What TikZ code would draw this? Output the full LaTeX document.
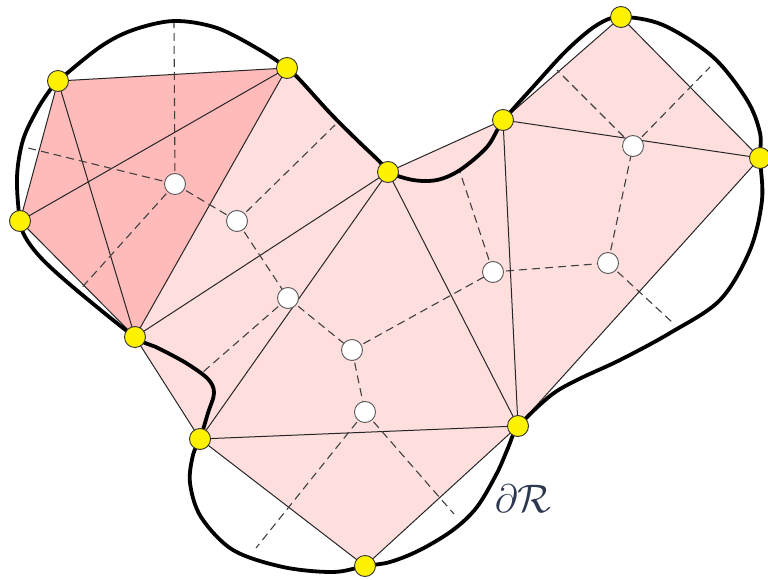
\documentclass[tikz,border=0pt]{standalone}
\begin{document}
\begin{tikzpicture}[x=1pt,y=-1pt,
  vtx/.style={circle,fill=yellow,draw=black!80,line width=0.9pt,minimum size=21pt,inner sep=0pt},
  vor/.style={circle,fill=white,draw=black!65,line width=0.9pt,minimum size=21pt,inner sep=0pt},
  edge/.style={draw=black!85,line width=1pt},
  vedge/.style={draw=black!75,line width=1.1pt,dash pattern=on 8pt off 5pt},
  bnd/.style={draw=black,line width=3.8pt,line join=round}]
\definecolor{lightpink}{RGB}{255,222,222}
\definecolor{darkpink}{RGB}{255,186,186}
\definecolor{labelcol}{RGB}{45,55,80}
\useasboundingbox (0,0) rectangle (768,580);
% vertices as coordinates
\coordinate (A) at (58,81);
\coordinate (B) at (287,68);
\coordinate (C) at (20,221);
\coordinate (D) at (135,337);
\coordinate (E) at (388,172);
\coordinate (F) at (503,120);
\coordinate (G) at (621,17);
\coordinate (H) at (760,158);
\coordinate (I) at (200,439);
\coordinate (J) at (518,426);
\coordinate (K) at (365,566);
% fills
\fill[lightpink] (B) -- (E) -- (F) -- (G) -- (H) -- (J) -- (K) -- (I) -- (D) -- cycle;
\fill[darkpink] (A) -- (B) -- (D) -- (C) -- cycle;
% triangle edges
\draw[edge] (A) -- (B) -- (D) -- (C) -- cycle;
\draw[edge] (A) -- (D);
\draw[edge] (C) -- (B);
\draw[edge] (B) -- (E) -- (D);
\draw[edge] (D) -- (I) -- (E);
\draw[edge] (I) -- (J) -- (E);
\draw[edge] (I) -- (K) -- (J);
\draw[edge] (E) -- (F) -- (J);
\draw[edge] (F) -- (H) -- (J);
\draw[edge] (F) -- (G) -- (H);
% circumcenters
\coordinate (v1) at (175,184);
\coordinate (v2) at (237,221);
\coordinate (v3) at (288,298);
\coordinate (v4) at (352,350);
\coordinate (v5) at (365,412);
\coordinate (v6) at (493,272);
\coordinate (v7) at (608,263);
\coordinate (v8) at (633,146);
% free ends
\coordinate (e1) at (174,22);
\coordinate (e2) at (28,148);
\coordinate (e3) at (77,293);
\coordinate (e4) at (335,125);
\coordinate (e5) at (203,372);
\coordinate (e6) at (256,548);
\coordinate (e7) at (454,514);
\coordinate (e8) at (460,172);
\coordinate (e9) at (673,323);
\coordinate (e10) at (557,70);
\coordinate (e11) at (710,67);
% Voronoi edges
\draw[vedge] (v1) -- (e1);
\draw[vedge] (v1) -- (e2);
\draw[vedge] (v1) -- (e3);
\draw[vedge] (v1) -- (v2);
\draw[vedge] (v2) -- (e4);
\draw[vedge] (v2) -- (v3);
\draw[vedge] (v3) -- (e5);
\draw[vedge] (v3) -- (v4);
\draw[vedge] (v4) -- (v5);
\draw[vedge] (v4) -- (v6);
\draw[vedge] (v5) -- (e6);
\draw[vedge] (v5) -- (e7);
\draw[vedge] (v6) -- (e8);
\draw[vedge] (v6) -- (v7);
\draw[vedge] (v7) -- (e9);
\draw[vedge] (v7) -- (v8);
\draw[vedge] (v8) -- (e10);
\draw[vedge] (v8) -- (e11);
% boundary
\draw[bnd] plot[smooth cycle,tension=0.55] coordinates {
 (58,81) (100,47) (133,30) (174,21) (217,28) (260,50) (287,68)
 (300,80) (330,113) (357,140) (380,162) (388,172)
 (413,180) (437,180) (460,170) (487,147) (503,121)
 (533,87) (567,50) (597,25) (621,17)
 (663,25) (713,57) (747,100) (760,133) (760,158)
 (762,200) (750,250) (720,300) (670,333) (620,360) (577,380) (550,396) (518,427)
 (508,448) (497,473) (477,507) (453,530) (420,550) (390,562) (365,566)
 (333,572) (283,567) (233,550) (201,517) (190,483) (193,455) (200,439)
 (208,413) (214,393) (208,379) (186,363) (158,348) (135,337)
 (80,293) (45,262) (27,240) (20,221)
 (17,177) (23,140) (37,110) (50,90)
};
% nodes
\foreach \n in {A,B,C,D,E,F,G,H,I,J,K} \node[vtx] (n\n) at (\n) {};
\foreach \n in {v1,v2,v3,v4,v5,v6,v7,v8} \node[vor] (n\n) at (\n) {};
\node[text=labelcol,font=\fontsize{24.88}{30}\selectfont,scale=1.6,inner sep=0pt] (lbl) at (523,499) {$\partial\mathcal{R}$};
\end{tikzpicture}
\end{document}
